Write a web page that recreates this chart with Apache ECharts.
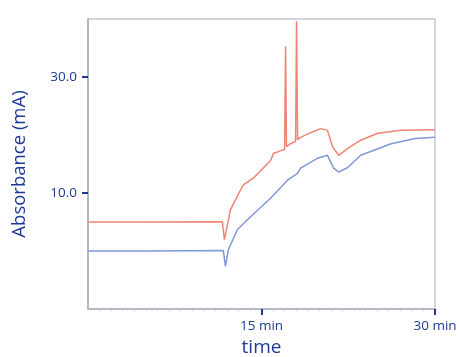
<!DOCTYPE html>
<html>
<head>
<meta charset="utf-8">
<script src="https://cdn.jsdelivr.net/npm/echarts@6/dist/echarts.min.js"></script>
<style>html,body{margin:0;padding:0;background:#fff}#c{width:459px;height:357px}</style>
</head>
<body>
<div id="c"></div>
<script>
// Data
const redTimes  = [0, 5, 11.62, 11.79, 12.03, 12.31, 13.18, 13.44, 14.31, 15.78, 16.04, 16.73, 17.0, 17.08, 17.16, 17.5, 17.95, 18.03, 18.12, 18.38, 19.25, 20.12, 20.7, 21.16, 21.68, 22.46, 23.58, 25.06, 27.05, 30];
const redValues = [5.0, 5.0, 5.04, 1.97, 4.24, 7.09, 10.5, 11.4, 12.6, 15.6, 16.8, 17.35, 17.5, 35.3, 18.0, 18.5, 18.9, 39.6, 19.2, 19.6, 20.4, 21.1, 20.8, 17.9, 16.5, 17.7, 19.1, 20.3, 20.8, 20.9];
const blueTimes  = [0, 5, 11.7, 11.88, 12.14, 12.92, 14.05, 15.78, 17.25, 18.12, 18.38, 19.86, 20.7, 21.24, 21.68, 22.46, 23.58, 26.2, 28.3, 30];
const blueValues = [0.0, 0.0, 0.08, -2.65, 0.26, 3.7, 5.9, 9.1, 12.2, 13.4, 14.3, 16.0, 16.5, 14.3, 13.6, 14.4, 16.5, 18.5, 19.4, 19.6];
const xTickValues = [15, 30];
const yTickValues = [10, 30];

const pairs = (t, v) => t.map((x, i) => [x, v[i]]);
const blueText = '#1c3a94';
const chart = echarts.init(document.getElementById('c'), null, {renderer: 'canvas'});
chart.setOption({
  animation: false,
  backgroundColor: '#ffffff',
  grid: {left: 88, right: 24, top: 19, bottom: 48, show: true, borderColor: '#c3c8d2', borderWidth: 1.5, outerBoundsMode: 'none', containLabel: false},
  xAxis: {
    type: 'value', min: 0, max: 30, interval: 15,
    name: 'time', nameLocation: 'middle', nameGap: 19,
    nameTextStyle: {color: blueText, fontSize: 19, fontFamily: 'Open Sans'},
    axisLine: {onZero: false, lineStyle: {color: '#aab0bd', width: 1.5}},
    axisTick: {customValues: xTickValues, length: 6, inside: false, lineStyle: {color: blueText, width: 2}},
    minorTick: {show: true, splitNumber: 15, length: 2, lineStyle: {color: '#b9bfcc'}},
    axisLabel: {customValues: xTickValues, formatter: v => v + ' min', color: blueText, fontSize: 13.5, fontFamily: 'Open Sans', margin: 10},
    splitLine: {show: false}
  },
  yAxis: {
    type: 'value', min: -10, max: 40,
    name: 'Absorbance (mA)', nameLocation: 'middle', nameGap: 59,
    nameTextStyle: {color: blueText, fontSize: 18.5, fontFamily: 'Open Sans'},
    axisLine: {show: true, onZero: false, lineStyle: {color: '#aab0bd', width: 1.5}},
    axisTick: {show: true, customValues: yTickValues, length: 6, lineStyle: {color: blueText, width: 2}},
    axisLabel: {customValues: yTickValues, formatter: v => v.toFixed(1), color: blueText, fontSize: 13.5, fontFamily: 'Open Sans', margin: 11},
    splitLine: {show: false}
  },
  series: [
    {type: 'line', data: pairs(blueTimes, blueValues), showSymbol: false, lineStyle: {color: '#7f98d6', width: 1.5}},
    {type: 'line', data: pairs(redTimes, redValues), showSymbol: false, lineStyle: {color: '#ef8473', width: 1.5}}
  ]
});
</script>
</body>
</html>
